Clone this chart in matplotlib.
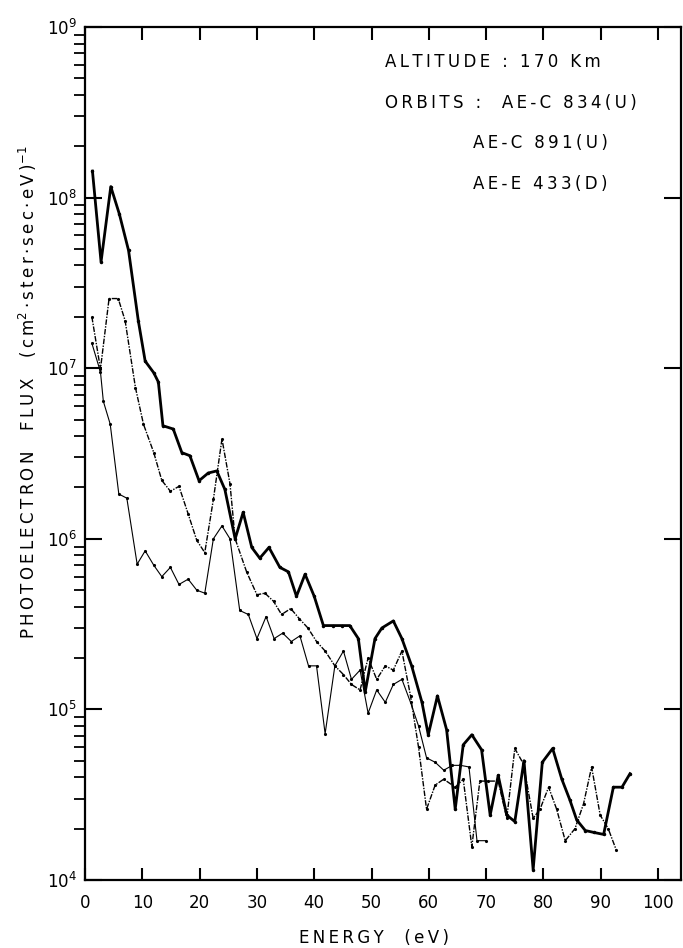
import matplotlib
matplotlib.use("Agg")
import matplotlib.pyplot as plt
from matplotlib.ticker import LogLocator, LogFormatterMathtext, NullFormatter

# orbit AE-C 834 (U) - heavy curve
energy_a = [1.3, 2.8, 4.5, 6.0, 7.6, 9.3, 10.5, 12.0, 12.8, 13.6, 15.4, 16.9, 18.3,
            19.9, 21.5, 23.0, 24.4, 26.2, 27.6, 29.1, 30.5, 32.1, 34.0, 35.5, 36.9,
            38.4, 40.0, 41.6, 43.3, 44.8, 46.2, 47.7, 48.9, 50.6, 51.8, 53.8, 55.3,
            57.0, 58.8, 59.9, 61.5, 63.1, 64.6, 66.0, 67.5, 69.2, 70.7, 72.1, 73.6,
            75.0, 76.6, 78.2, 79.8, 81.6, 83.2, 84.6, 85.8, 87.3, 88.8, 90.5, 92.2,
            93.7, 95.1]
flux_a = [1.43e8, 4.2e7, 1.16e8, 8.0e7, 4.9e7, 1.9e7, 1.1e7, 9.4e6, 8.3e6, 4.6e6, 4.4e6,
          3.2e6, 3.07e6, 2.19e6, 2.43e6, 2.5e6, 1.95e6, 1.0e6, 1.43e6, 8.9e5, 7.7e5,
          8.9e5, 6.8e5, 6.4e5, 4.6e5, 6.2e5, 4.6e5, 3.1e5, 3.1e5, 3.1e5, 3.1e5, 2.6e5,
          1.27e5, 2.6e5, 3.0e5, 3.3e5, 2.6e5, 1.8e5, 1.1e5, 7.1e4, 1.2e5, 7.6e4, 2.6e4,
          6.2e4, 7.1e4, 5.8e4, 2.4e4, 4.1e4, 2.4e4, 2.2e4, 5.0e4, 1.15e4, 4.9e4, 5.9e4,
          3.9e4, 2.95e4, 2.25e4, 1.95e4, 1.9e4, 1.85e4, 3.5e4, 3.5e4, 4.2e4]

# orbit AE-C 891 (U)
energy_b = [1.2, 2.7, 4.2, 5.8, 7.0, 8.8, 10.2, 12.0, 13.4, 14.9, 16.4, 18.0, 19.5,
            20.9, 22.4, 23.9, 25.3, 26.2, 28.2, 30.0, 31.4, 32.9, 34.3, 35.9, 37.4,
            38.9, 40.4, 41.9, 43.6, 45.1, 46.5, 48.0, 49.4, 50.9, 52.4, 53.8, 55.3,
            56.8, 58.2, 59.6, 61.1, 62.6, 64.6, 66.0, 67.5, 68.9, 70.4, 72.1, 73.6,
            75.0, 76.5, 78.2, 79.4, 80.9, 82.3, 83.8, 85.5, 87.0, 88.4, 89.9, 91.3, 92.7]
flux_b = [2.0e7, 9.9e6, 2.56e7, 2.56e7, 1.9e7, 7.7e6, 4.7e6, 3.2e6, 2.2e6, 1.9e6, 2.03e6,
          1.4e6, 9.8e5, 8.3e5, 1.7e6, 3.85e6, 2.1e6, 1.0e6, 6.4e5, 4.7e5, 4.8e5, 4.3e5,
          3.6e5, 3.9e5, 3.4e5, 3.0e5, 2.5e5, 2.2e5, 1.8e5, 1.6e5, 1.4e5, 1.3e5, 2.0e5,
          1.5e5, 1.8e5, 1.7e5, 2.2e5, 1.2e5, 6.0e4, 2.6e4, 3.6e4, 3.9e4, 3.5e4, 3.9e4,
          1.57e4, 3.8e4, 3.8e4, 3.8e4, 2.3e4, 5.9e4, 4.8e4, 2.3e4, 2.6e4, 3.5e4, 2.6e4,
          1.7e4, 2.0e4, 2.8e4, 4.6e4, 2.4e4, 2.0e4, 1.5e4]

# orbit AE-E 433 (D)
energy_c = [1.2, 2.7, 3.2, 4.4, 5.9, 7.3, 9.1, 10.5, 12.0, 13.4, 14.9, 16.4, 18.0,
            19.5, 20.9, 22.4, 23.9, 25.3, 27.0, 28.5, 30.0, 31.6, 33.0, 34.5, 36.0,
            37.5, 39.0, 40.4, 41.9, 43.6, 45.1, 46.5, 48.0, 49.4, 50.9, 52.4, 53.8,
            55.3, 56.8, 58.2, 59.6, 61.1, 62.6, 64.1, 65.5, 67.0, 68.4, 69.9]
flux_c = [1.4e7, 9.5e6, 6.4e6, 4.7e6, 1.83e6, 1.73e6, 7.1e5, 8.5e5, 7.0e5, 6.0e5, 6.8e5,
          5.4e5, 5.8e5, 5.0e5, 4.8e5, 1.0e6, 1.19e6, 1.0e6, 3.8e5, 3.6e5, 2.6e5, 3.5e5,
          2.6e5, 2.8e5, 2.5e5, 2.7e5, 1.8e5, 1.8e5, 7.2e4, 1.8e5, 2.2e5, 1.5e5, 1.7e5,
          9.5e4, 1.3e5, 1.1e5, 1.4e5, 1.5e5, 1.1e5, 8.0e4, 5.2e4, 4.9e4, 4.4e4, 4.7e4,
          4.7e4, 4.6e4, 1.7e4, 1.7e4]

x_ticks = [0, 10, 20, 30, 40, 50, 60, 70, 80, 90, 100]


def spaced(s):
    # the original lettering is widely tracked; thin spaces between letters
    return "\u2009".join(s)


fig = plt.figure(figsize=(6.83, 9.48), dpi=100)
ax = fig.add_axes([85 / 683, 1 - 880 / 948, (681 - 85) / 683, (880 - 27) / 948])

ax.plot(energy_a, flux_a, color="black", lw=2.0, marker=".", ms=3)
ax.plot(energy_b, flux_b, color="black", lw=1.0, ls=(0, (4, 1, 1, 1)), marker=".", ms=2.5)
ax.plot(energy_c, flux_c, color="black", lw=0.8, marker=".", ms=2.5)

ax.set_yscale("log")
ax.set_ylim(1e4, 1e9)
ax.set_xlim(0, 104)
ax.set_xticks(x_ticks)
ax.yaxis.set_major_locator(LogLocator(base=10, numticks=10))
ax.yaxis.set_major_formatter(LogFormatterMathtext())
ax.yaxis.set_minor_locator(LogLocator(base=10, subs=range(2, 10), numticks=20))
ax.yaxis.set_minor_formatter(NullFormatter())

for s in ax.spines.values():
    s.set_linewidth(1.6)

ax.tick_params(axis="both", direction="in", top=True, right=True, width=1.5, labelsize=12)
ax.tick_params(axis="x", which="major", length=9, pad=10)
ax.tick_params(axis="y", which="major", length=12, pad=6)
ax.tick_params(axis="y", which="minor", length=8, width=1.3)

# annotation block
txt = dict(fontsize=12, color="black", ha="left", va="center")
fig.text(385 / 683, 1 - 62 / 948, spaced("ALTITUDE : 170 Km"), **txt)
fig.text(385 / 683, 1 - 103 / 948, spaced("ORBITS :  AE-C 834(U)"), **txt)
fig.text(473 / 683, 1 - 143 / 948, spaced("AE-C 891(U)"), **txt)
fig.text(473 / 683, 1 - 184 / 948, spaced("AE-E 433(D)"), **txt)

fig.text(374 / 683, 1 - 938 / 948, spaced("ENERGY  (eV)"), fontsize=12,
         ha="center", va="center")
ylab = (spaced("PHOTOELECTRON  FLUX  (cm") + "$^2$" + "\u2009·\u2009"
        + spaced("ster·sec·eV)") + "$^{-1}$")
fig.text(28 / 683, 1 - 392 / 948, ylab, fontsize=12, rotation=90,
         ha="center", va="center")

fig.savefig("out.png", dpi=100)
